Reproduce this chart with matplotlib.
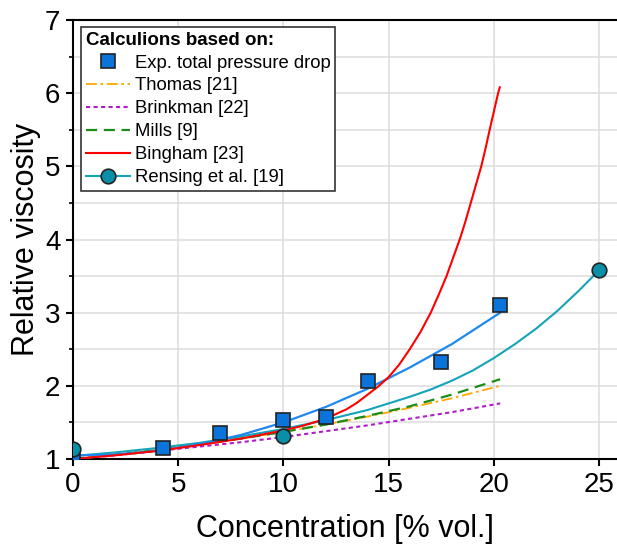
import matplotlib
matplotlib.use("Agg")
import matplotlib.pyplot as plt
from matplotlib.lines import Line2D
from matplotlib.ticker import MultipleLocator

plt.rcParams['font.family'] = ['Liberation Sans', 'DejaVu Sans']

# experimental points (total pressure drop)
exp_x = [0, 4.3, 7.0, 10.0, 12.0, 14.0, 17.5, 20.3]
exp_y = [1.0, 1.15, 1.35, 1.53, 1.57, 2.07, 2.33, 3.10]

# fit through the experimental points (unlabelled blue line)
fit_x = [0, 2, 4, 6, 8, 10, 12, 14, 16, 18, 20.3]
fit_y = [1.05, 1.06, 1.11, 1.20, 1.33, 1.50, 1.71, 1.96, 2.25, 2.57, 3.00]

# model curves
mod_x = [0, 2, 4, 6, 8, 10, 12, 14, 16, 18, 20.3]
thomas_y = [1.00, 1.06, 1.12, 1.19, 1.28, 1.37, 1.47, 1.58, 1.70, 1.83, 2.00]
brinkman_y = [1.00, 1.05, 1.11, 1.17, 1.23, 1.30, 1.38, 1.46, 1.55, 1.64, 1.76]
mills_y = [1.00, 1.06, 1.12, 1.20, 1.28, 1.37, 1.47, 1.59, 1.72, 1.88, 2.09]

bingham_x = [0, 2, 4, 6, 8, 10, 11, 12, 13, 13.5, 14, 14.5, 15, 15.5, 16, 16.5, 17,
             17.4, 17.75, 18.1, 18.4, 18.65, 18.9, 19.15, 19.4, 19.6, 19.8, 20.0, 20.2, 20.28]
bingham_y = [1.00, 1.05, 1.11, 1.19, 1.28, 1.39, 1.46, 1.55, 1.68, 1.77, 1.88, 1.99, 2.12,
             2.29, 2.50, 2.73, 3.00, 3.26, 3.50, 3.78, 4.02, 4.25, 4.50, 4.75, 5.00, 5.24,
             5.50, 5.75, 6.00, 6.08]

rensing_x = [0, 2, 4, 6, 8, 10, 12, 14, 16, 17, 18, 19, 20, 21, 22, 23, 24, 25]
rensing_y = [1.04, 1.09, 1.15, 1.22, 1.31, 1.41, 1.53, 1.67, 1.85, 1.95, 2.07, 2.21, 2.38,
             2.57, 2.78, 3.02, 3.29, 3.58]
rensing_pts_x = [0, 10, 25]
rensing_pts_y = [1.13, 1.31, 3.58]

fig = plt.figure(figsize=(6.17, 5.49), dpi=100)
ax = fig.add_axes([73 / 617, 90 / 549, 544 / 617, 439 / 549])

c_sq = '#0a74da'
c_fit = '#1e88f0'
c_ren = '#14a3b8'
c_thomas = '#ffa500'
c_brink = '#b01cc8'
c_mills = '#1a8c1a'
c_bing = '#ff0000'
ls_thomas = (0, (6, 2, 1.5, 2))
ls_brink = (0, (2, 1.6))
ls_mills = (0, (5, 3))

ax.plot(mod_x, thomas_y, color=c_thomas, lw=1.3, ls=ls_thomas, zorder=3)
ax.plot(mod_x, brinkman_y, color=c_brink, lw=1.5, ls=ls_brink, zorder=3)
ax.plot(mod_x, mills_y, color=c_mills, lw=1.6, ls=ls_mills, zorder=3)
ax.plot(rensing_x, rensing_y, color=c_ren, lw=1.5, zorder=4)
ax.plot(fit_x, fit_y, color=c_fit, lw=1.6, zorder=4)
ax.plot(bingham_x, bingham_y, color=c_bing, lw=1.5, zorder=4)
ax.plot(exp_x, exp_y, ls='none', marker='s', ms=10, mfc=c_sq, mec='#222222', mew=1.2, zorder=6)
ax.plot(rensing_pts_x, rensing_pts_y, ls='none', marker='o', ms=10.5, mfc='#0a8fa8',
        mec='#222222', mew=1.2, zorder=6)

ax.set_xlim(0, 25.85)
ax.set_ylim(1, 7)
ax.xaxis.set_major_locator(MultipleLocator(5))
ax.yaxis.set_major_locator(MultipleLocator(1))
ax.yaxis.set_minor_locator(MultipleLocator(0.5))
ax.grid(True, which='major', color='#dcdcdc', lw=1.1)
ax.grid(True, which='minor', axis='y', color='#dcdcdc', lw=1.1)
ax.set_axisbelow(True)

ax.spines['right'].set_visible(False)
for s in ['left', 'bottom', 'top']:
    ax.spines[s].set_linewidth(1.5)
ax.tick_params(axis='both', which='major', direction='out', length=5, width=1.5,
               labelsize=20, pad=4)
ax.tick_params(axis='y', which='minor', direction='out', length=3, width=1.2)

ax.set_xlabel('Concentration [% vol.]', fontsize=22, labelpad=12)
ax.set_ylabel('Relative viscosity', fontsize=22, labelpad=3)

handles = [
    Line2D([], [], ls='none', marker='s', ms=10, mfc=c_sq, mec='#222222', mew=1.2),
    Line2D([], [], color=c_thomas, lw=1.3, ls=ls_thomas),
    Line2D([], [], color=c_brink, lw=1.5, ls=ls_brink),
    Line2D([], [], color=c_mills, lw=1.6, ls=ls_mills),
    Line2D([], [], color=c_bing, lw=1.5),
    Line2D([], [], color=c_ren, lw=1.5, marker='o', ms=10.5, mfc='#0a8fa8', mec='#222222', mew=1.2),
]
labels = ['Exp. total pressure drop', 'Thomas [21]', 'Brinkman [22]', 'Mills [9]',
          'Bingham [23]', 'Rensing et al. [19]']
leg = ax.legend(handles, labels, loc='upper left', bbox_to_anchor=(8 / 544, 1 - 7 / 439),
                title='Calculions based on:', title_fontproperties={'weight': 'bold', 'size': 13.5},
                alignment='left', fontsize=13.3, frameon=True, fancybox=False,
                edgecolor='#333333', framealpha=1, handlelength=2.4, handletextpad=0.28,
                borderpad=0.25, labelspacing=0.32, borderaxespad=0)
leg.get_frame().set_linewidth(1.2)
leg.set_zorder(10)

fig.savefig('out.png', dpi=100)
